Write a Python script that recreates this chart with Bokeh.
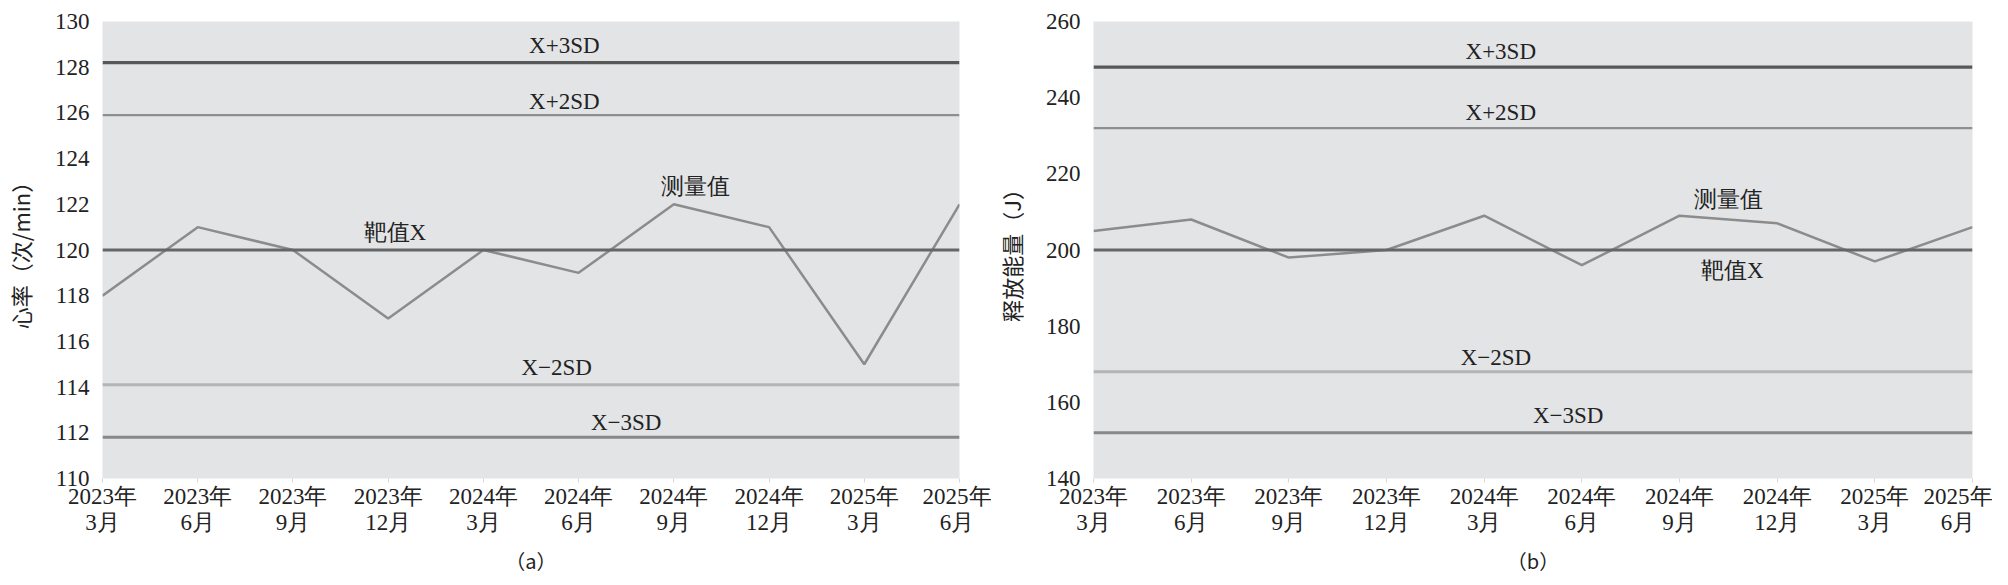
from bokeh.plotting import figure
from bokeh.layouts import row
from bokeh.models import Range1d, FixedTicker, ColumnDataSource, Span
from bokeh.embed import file_html
from bokeh.resources import INLINE
from bokeh.core.properties import value

# ---------------- data ----------------
periods = ["2023年\n3月", "2023年\n6月", "2023年\n9月", "2023年\n12月",
           "2024年\n3月", "2024年\n6月", "2024年\n9月", "2024年\n12月",
           "2025年\n3月", "2025年\n6月"]

# (a) heart rate
hr_measured = [118, 121, 120, 117, 120, 119, 122, 121, 115, 122]
hr_target = 120
hr_limit_names = ["X+3SD", "X+2SD", "X\u22122SD", "X\u22123SD"]
hr_limit_values = [128.2, 125.9, 114.1, 111.8]
hr_ticks = [110, 112, 114, 116, 118, 120, 122, 124, 126, 128, 130]

# (b) released energy
en_measured = [205, 208, 198, 200, 209, 196, 209, 207, 197, 206]
en_target = 200
en_limit_names = ["X+3SD", "X+2SD", "X\u22122SD", "X\u22123SD"]
en_limit_values = [248, 232, 168, 152]
en_ticks = [140, 160, 180, 200, 220, 240, 260]

# ---------------- style ----------------
FONT = "Liberation Serif"
CJK = "Noto Sans CJK SC"
FS = "23px"
BG = "#e3e4e6"
TXT = "#222222"
limit_colors = ["#585858", "#8e8e8e", "#b4b4b4", "#888888"]
limit_widths = [3.2, 2.2, 3, 3]
target_color = "#666666"
meas_color = "#8c8c8c"


def make_panel(measured, target, names, values, ticks, ylab, cap,
               yr, border_l, border_r, frame_w,
               lim_lx, lim_off, tgt_lx, tgt_off, meas_idx, meas_lx, meas_off):
    p = figure(width=border_l + frame_w + border_r, height=577,
               min_border_left=border_l, min_border_right=border_r,
               min_border_top=21, min_border_bottom=97,
               x_range=Range1d(0, len(periods) - 1), y_range=Range1d(*yr),
               output_backend="svg", toolbar_location=None)
    p.background_fill_color = BG
    p.border_fill_color = "white"
    p.outline_line_color = None
    p.grid.visible = False

    # control lines
    for v, c, w in zip(values, limit_colors, limit_widths):
        p.add_layout(Span(location=v, dimension="width", line_color=c, line_width=w))
    p.add_layout(Span(location=target, dimension="width", line_color=target_color, line_width=3))

    xs = list(range(len(periods)))
    p.line(xs, measured, line_color=meas_color, line_width=2.5)

    # annotations
    src = ColumnDataSource(dict(
        x=lim_lx + [tgt_lx, meas_lx],
        y=values + [target, measured[meas_idx]],
        t=names + ["靶值X", "测量值"],
        off=lim_off + [tgt_off, meas_off],
    ))
    p.text(x="x", y="y", text="t", y_offset="off", source=src,
           text_font=value(FONT), text_font_size=FS, text_color=TXT,
           text_align="center", text_baseline="middle")

    # axes
    p.yaxis.ticker = FixedTicker(ticks=ticks)
    p.yaxis.axis_label = ylab
    p.xaxis.ticker = FixedTicker(ticks=xs)
    p.xaxis.major_label_overrides = {i: s for i, s in enumerate(periods)}
    p.xaxis.axis_label = cap
    for ax in (p.xaxis, p.yaxis):
        ax.axis_line_color = None
        ax.minor_tick_line_color = None
        ax.major_label_text_font = FONT
        ax.major_label_text_font_size = FS
        ax.major_label_text_color = TXT
        ax.axis_label_text_font = CJK
        ax.axis_label_text_font_style = "normal"
        ax.axis_label_text_color = TXT
    p.yaxis.axis_label_text_font_size = "22px"
    p.yaxis.major_tick_line_color = None
    p.yaxis.major_label_standoff = 7
    p.yaxis.axis_label_standoff = 16
    p.xaxis.major_tick_line_color = "#d8d8d8"
    p.xaxis.major_tick_out = 4
    p.xaxis.major_tick_in = 0
    p.xaxis.major_label_standoff = 1
    p.xaxis.major_label_text_line_height = 1.05
    p.xaxis.axis_label_standoff = 8
    p.xaxis.axis_label_text_font_size = "20px"
    return p


pa = make_panel(hr_measured, hr_target, hr_limit_names, hr_limit_values, hr_ticks,
                "心率（次/min）", "（a）", (110, 130), 100, 32, 859,
                [4.85, 4.85, 4.77, 5.5], [-17, -14, -17, -15],
                3.07, -18, 6, 6.23, -18)

pb = make_panel(en_measured, en_target, en_limit_names, en_limit_values, en_ticks,
                "释放能量（J）", "（b）", (140, 260), 100, 20, 881,
                [4.17, 4.17, 4.12, 4.86], [-16, -16, -14, -17],
                6.54, 20, 6, 6.5, -16)

layout = row(pa, pb)
open("out.html", "w").write(file_html(layout, INLINE))
